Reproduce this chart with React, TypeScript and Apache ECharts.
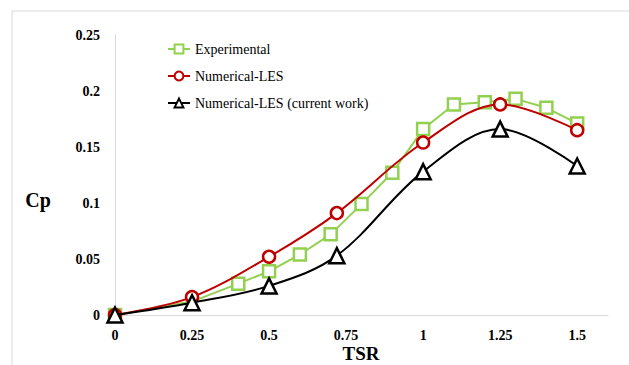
import React, { useEffect, useRef } from "react";
import * as echarts from "echarts";

// Power coefficient vs tip speed ratio
const expTSR = [0, 0.25, 0.4, 0.5, 0.6, 0.7, 0.8, 0.9, 1.0, 1.1, 1.2, 1.3, 1.4, 1.5];
const expCp = [0, 0.012, 0.028, 0.039, 0.054, 0.072, 0.099, 0.127, 0.166, 0.188, 0.19, 0.193, 0.185, 0.171];
const lesTSR = [0, 0.25, 0.5, 0.72, 1.0, 1.25, 1.5];
const lesCp = [0, 0.016, 0.052, 0.091, 0.154, 0.188, 0.165];
const curTSR = [0, 0.25, 0.5, 0.72, 1.0, 1.25, 1.5];
const curCp = [0, 0.011, 0.026, 0.053, 0.128, 0.166, 0.133];
const seriesNames = ["Experimental", "Numerical-LES", "Numerical-LES (current work)"];
// the experimental point at 0.25 sits under the triangle marker
const hiddenExpTSR = [0.25];

const FONT = "Liberation Serif";

export default function App() {
  const ref = useRef<HTMLDivElement>(null);

  useEffect(() => {
    if (!ref.current) return;
    const chart = echarts.init(ref.current, null, { renderer: "svg" });

    const expData = expTSR.map((x, i) =>
      hiddenExpTSR.includes(x)
        ? { value: [x, expCp[i]], symbol: "none" }
        : { value: [x, expCp[i]] }
    );

    chart.setOption({
      animation: false,
      backgroundColor: "#ffffff",
      grid: { left: 115, width: 493, top: 35, height: 280, outerBoundsMode: "none", containLabel: false },
      graphic: [
        {
          type: "rect",
          shape: { x: 12, y: 11, width: 700, height: 500 },
          style: { fill: "none", stroke: "#d9d9d9", lineWidth: 1 },
          silent: true,
          z: -10,
        },
        {
          type: "text",
          x: 38,
          y: 200,
          style: {
            text: "Cp",
            fontFamily: FONT,
            fontSize: 20,
            fontWeight: "bold",
            fill: "#000",
            align: "center",
            verticalAlign: "middle",
          },
        },
        {
          type: "text",
          x: 361,
          y: 353,
          style: {
            text: "TSR",
            fontFamily: FONT,
            fontSize: 19,
            fontWeight: "bold",
            fill: "#000",
            align: "center",
            verticalAlign: "middle",
          },
        },
      ],
      legend: {
        orient: "vertical",
        left: 162,
        top: 37,
        itemWidth: 22,
        itemHeight: 11,
        itemGap: 13,
        data: seriesNames,
        textStyle: { fontFamily: FONT, fontSize: 14, color: "#000" },
      },
      xAxis: {
        type: "value",
        min: 0,
        max: 1.6,
        interval: 0.25,
        axisLine: { show: true, lineStyle: { color: "#d9d9d9", width: 1 } },
        axisTick: { show: false },
        splitLine: { show: false },
        axisLabel: {
          showMaxLabel: false,
          margin: 13,
          fontFamily: FONT,
          fontSize: 14,
          fontWeight: "bold",
          color: "#000",
          formatter: (v: number) => String(v),
        },
      },
      yAxis: {
        type: "value",
        min: 0,
        max: 0.25,
        interval: 0.05,
        axisLine: { show: true, lineStyle: { color: "#d9d9d9", width: 1 } },
        axisTick: { show: false },
        splitLine: { show: false },
        axisLabel: {
          margin: 15,
          fontFamily: FONT,
          fontSize: 14,
          fontWeight: "bold",
          color: "#000",
          formatter: (v: number) => String(Math.round(v * 100) / 100),
        },
      },
      series: [
        {
          name: seriesNames[0],
          type: "line",
          data: expData,
          symbol: "rect",
          symbolSize: 12,
          lineStyle: { color: "#92d050", width: 2 },
          itemStyle: { color: "#ffffff", borderColor: "#92d050", borderWidth: 2.5 },
          z: 2,
        },
        {
          name: seriesNames[1],
          type: "line",
          data: lesTSR.map((x, i) => [x, lesCp[i]]),
          smooth: 0.35,
          symbol: "circle",
          symbolSize: 12,
          lineStyle: { color: "#c00000", width: 2 },
          itemStyle: { color: "#ffffff", borderColor: "#c00000", borderWidth: 2.5 },
          z: 3,
        },
        {
          name: seriesNames[2],
          type: "line",
          data: curTSR.map((x, i) => [x, curCp[i]]),
          smooth: 0.35,
          symbol: "triangle",
          symbolSize: 15,
          lineStyle: { color: "#000000", width: 2 },
          itemStyle: { color: "#ffffff", borderColor: "#000000", borderWidth: 2.5 },
          z: 4,
        },
      ],
    });

    return () => chart.dispose();
  }, []);

  return (
    <div
      ref={ref}
      style={{ position: "fixed", left: 0, top: 0, width: 629, height: 365, background: "#fff" }}
    />
  );
}
